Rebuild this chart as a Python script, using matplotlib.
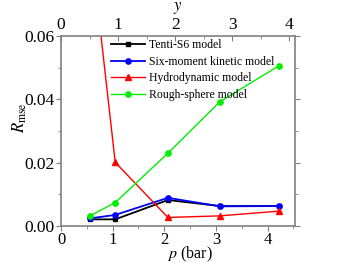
#import libraries
import matplotlib
matplotlib.use("Agg")
import matplotlib.pyplot as plt
from matplotlib.ticker import MultipleLocator

#data
p_bar = [0.56, 1.05, 2.07, 3.08, 4.22]
tenti = [0.0021, 0.0021, 0.0082, 0.0063, 0.0063]
six_moment = [0.0024, 0.0035, 0.0089, 0.0062, 0.0063]
hydro = [0.091, 0.0201, 0.0027, 0.0032, 0.0047]
rough = [0.0032, 0.0074, 0.0230, 0.0393, 0.0506]
labels = ["Tenti-S6 model", "Six-moment kinetic model", "Hydrodynamic model", "Rough-sphere model"]

plt.rcParams["font.family"] = "Liberation Serif"
plt.rcParams["mathtext.fontset"] = "stix"

spine_col = "#808080"

fig = plt.figure(figsize=(3.43, 2.63), dpi=100)
ax = fig.add_axes([61/343, 1-226/263, 234/343, 190/263])

ax.plot(p_bar, tenti, color="black", marker="s", ms=3.5, lw=1.3, label=labels[0])
ax.plot(p_bar, six_moment, color="blue", marker="o", ms=3.8, lw=1.3, label=labels[1])
ax.plot(p_bar, hydro, color="red", marker="^", ms=3.8, lw=1.0, label=labels[2])
ax.plot(p_bar, rough, color="#00ee00", marker="o", ms=3.8, lw=1.0, label=labels[3])

ax.set_xlim(0, 4.53)
ax.set_ylim(0, 0.06)
ax.xaxis.set_major_locator(MultipleLocator(1))
ax.xaxis.set_minor_locator(MultipleLocator(0.5))
ax.yaxis.set_major_locator(MultipleLocator(0.02))
ax.yaxis.set_minor_locator(MultipleLocator(0.01))
ax.yaxis.set_major_formatter(plt.FormatStrFormatter("%.2f"))
ax.tick_params(which="both", direction="out", colors=spine_col, labelcolor="black",
               labelsize=12.5, right=True, pad=1)
ax.tick_params(axis="x", pad=0.5, labelsize=12)
ax.tick_params(which="major", length=3.5)
ax.tick_params(which="minor", length=2)
for s in ax.spines.values():
    s.set_color(spine_col)
    s.set_linewidth(1.2)

ax.set_xlabel(r"$p$ (bar)", fontsize=11.5, va="center")
ax.xaxis.set_label_coords(0.55, -28/190)
ax.set_ylabel(r"$R_{\rm mse}$", fontsize=12, va="center")
ax.yaxis.set_label_coords(-41/234, 0.57)

#top axis
ax2 = ax.twiny()
ax2.set_xlim(0, 4.1)
ax2.xaxis.set_major_locator(MultipleLocator(1))
ax2.xaxis.set_minor_locator(MultipleLocator(0.5))
ax2.tick_params(which="both", direction="in", colors=spine_col, labelcolor="black",
                labelsize=12.5, pad=2)
ax2.tick_params(which="major", length=3.5)
ax2.tick_params(which="minor", length=2)
for s in ax2.spines.values():
    s.set_visible(False)
ax2.set_xlabel(r"$y$", fontsize=12, va="center")
ax2.xaxis.set_label_coords(0.5, 1 + 28/190)

leg = ax.legend(loc="upper left", bbox_to_anchor=(111/343, 1-39/263),
                bbox_transform=fig.transFigure, frameon=False, fontsize=8.5,
                handlelength=2.9, handletextpad=0.3, labelspacing=0.4,
                borderpad=0, borderaxespad=0)

fig.savefig("out.png", dpi=100)
